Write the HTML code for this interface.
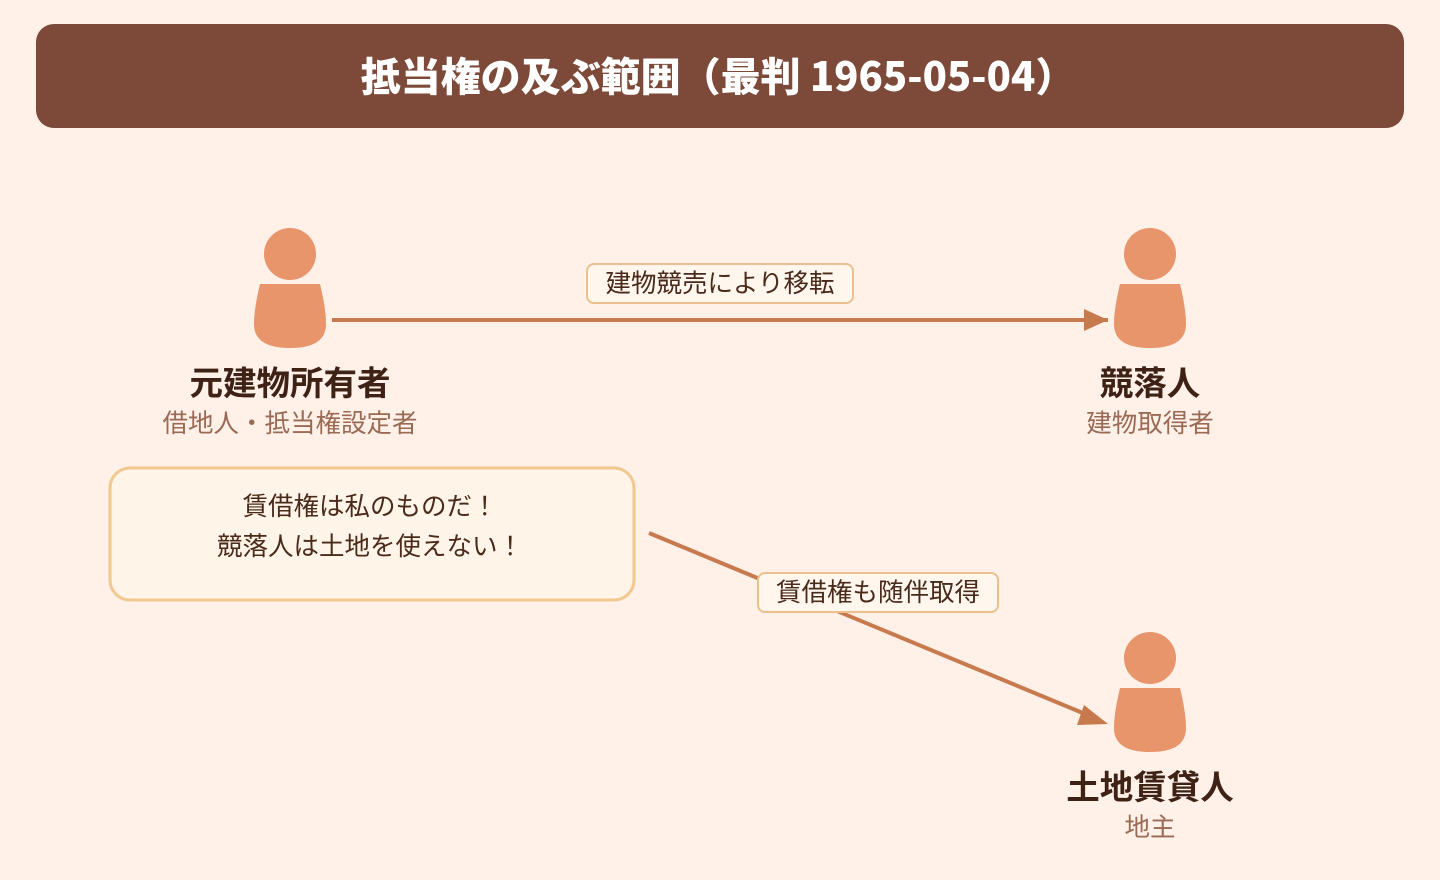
<!DOCTYPE html>
<html><head><meta charset="utf-8"><style>
html,body{margin:0;padding:0;background:#fff0e8;}
svg{display:block;font-family:"Noto Sans CJK JP","Liberation Sans",sans-serif;}
</style></head><body>
<svg width="1440" height="880" viewBox="0 0 1440 880" xmlns="http://www.w3.org/2000/svg">
<rect width="1440" height="880" fill="#fff0e8"/>
<rect x="36" y="24" width="1368" height="104" rx="18" fill="#7d4a3a"/>
<text x="718" y="91" text-anchor="middle" font-size="40" font-weight="900" fill="#ffffff">抵当権の及ぶ範囲（最判 1965-05-04）</text>

<defs>
<g id="p">
<circle cx="0" cy="0" r="26" fill="#e8956b"/>
<path d="M-30,30 L30,30 Q36,55 36,70 Q36,94 0,94 Q-36,94 -36,70 Q-36,55 -30,30 Z" fill="#e8956b"/>
</g>
</defs>

<use href="#p" x="290" y="254"/>
<use href="#p" x="1150" y="254"/>
<use href="#p" x="1150" y="658"/>

<line x1="332" y1="320" x2="1108" y2="320" stroke="#c87a4f" stroke-width="4"/>
<path d="M1084,309 L1108,320 L1084,331 Z" fill="#c87a4f"/>
<rect x="587" y="264" width="266" height="39" rx="7" fill="#fff6ee" stroke="#ebc08e" stroke-width="2"/>
<text x="720" y="292" text-anchor="middle" font-size="25.5" fill="#4a2a1a">建物競売により移転</text>

<line x1="649" y1="533" x2="1090" y2="716" stroke="#c87a4f" stroke-width="4"/>
<path d="M1084,705 L1108,724 L1077,725 Z" fill="#c87a4f"/>
<rect x="758" y="573" width="240" height="39" rx="7" fill="#fff6ee" stroke="#ebc08e" stroke-width="2"/>
<text x="878" y="601" text-anchor="middle" font-size="25.5" fill="#4a2a1a">賃借権も随伴取得</text>

<text x="290" y="395" text-anchor="middle" font-size="33.5" font-weight="bold" fill="#3e2215">元建物所有者</text>
<text x="290" y="432" text-anchor="middle" font-size="25.5" fill="#9a6a55">借地人・抵当権設定者</text>
<text x="1150" y="395" text-anchor="middle" font-size="33.5" font-weight="bold" fill="#3e2215">競落人</text>
<text x="1150" y="432" text-anchor="middle" font-size="25.5" fill="#9a6a55">建物取得者</text>
<text x="1150" y="799" text-anchor="middle" font-size="33.5" font-weight="bold" fill="#3e2215">土地賃貸人</text>
<text x="1150" y="836" text-anchor="middle" font-size="25.5" fill="#9a6a55">地主</text>

<rect x="110" y="468" width="524" height="132" rx="20" fill="#fff4e8" stroke="#f0c890" stroke-width="3"/>
<text x="370" y="515" text-anchor="middle" font-size="25.5" fill="#4a2a1a">賃借権は私のものだ！</text>
<text x="370" y="555" text-anchor="middle" font-size="25.5" fill="#4a2a1a">競落人は土地を使えない！</text>
</svg>
</body></html>
